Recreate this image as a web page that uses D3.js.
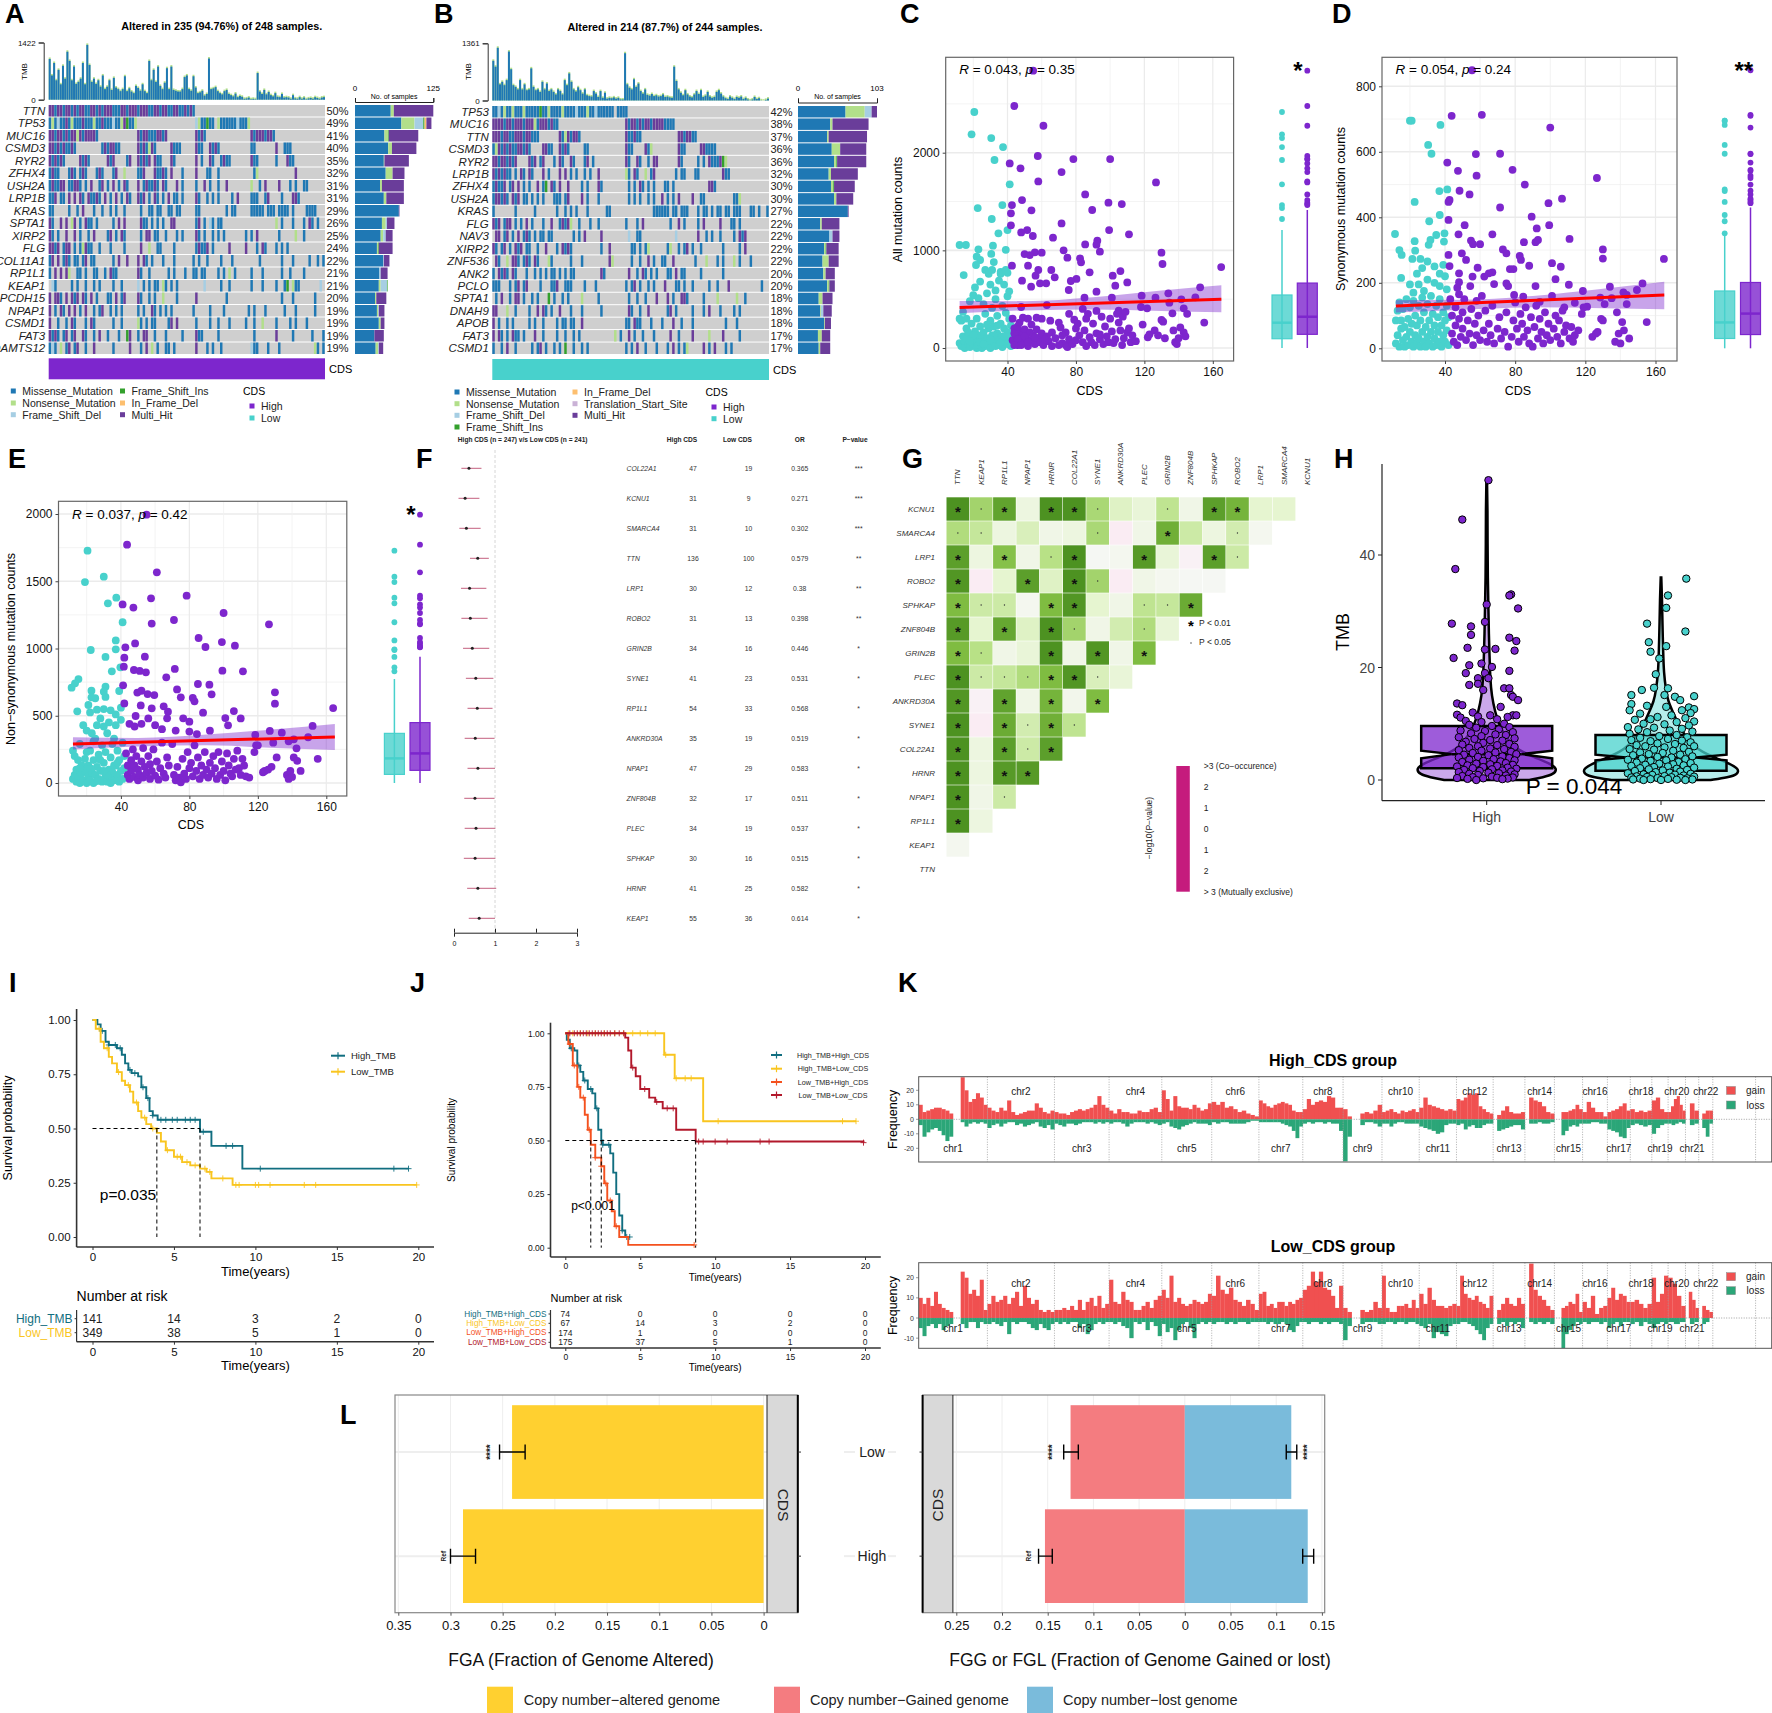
<!DOCTYPE html>
<html>
<head>
<meta charset="utf-8">
<script src="https://cdn.jsdelivr.net/npm/d3@7"></script>
<style>
body { margin: 0; background: #fff; }
text { font-family: "Liberation Sans", Arial, sans-serif; }
</style>
</head>
<body>
<div id="fig"></div>
<script>
// ---------- data ----------
var mutKeys = ["m", "n", "d", "i", "f", "h", "t"];
var mutColors = { m: "#1f78b4", n: "#b2df8a", d: "#a6cee3", i: "#33a02c", f: "#fdbf6f", h: "#6a3d9a", t: "#cab2d6" };

var genesA = ["TTN", "TP53", "MUC16", "CSMD3", "RYR2", "ZFHX4", "USH2A", "LRP1B", "KRAS", "SPTA1", "XIRP2", "FLG", "COL11A1", "RP1L1", "KEAP1", "PCDH15", "NPAP1", "CSMD1", "FAT3", "ADAMTS12"];
var pctA = [50, 49, 41, 40, 35, 32, 31, 31, 29, 26, 25, 24, 22, 21, 21, 20, 19, 19, 19, 19];
var rowsA = [
  "hhmhhmhhmh mhhmmhhmhm hhhmmmhhmh hhmhhhmmhh mhhmmhhmmh mhm",
  "mnmdmmhmnm mmhmmmnmmh mmmdmmnhim mn........ .......... ...dnmmimm .nmmmmmmdm mmn",
  "hhmhhmhmhh nhmhhhhm.. .......... ..hmhhmmmh hmh....... ...hmhm... .......... ...hmhhhmh hm",
  "hhmhmhmmhm .........m hmhhmm.... ..hmhmnhm. ....hmmm.. ...hmm..hm hm........ ...mm..... ..h..mmm",
  "hmhmhm.... .hmhm..... .hmh....mh ..hmhmh.hm m...hm.... ...h.m..hm ..mhmm.... ...hmm.... ..m...hmm.",
  "mhmm...mhm .mhm...mhm ...mh..n.. ..mmh...hm mhm.h...m. ...h...mm. .m........ ....mn.... ......... h",
  "mhmmhh.mmh hm.m.h..mh .m.h.m.hm. ..h.mhmmhm .hm...h.m. ...m..h.m. .m..h..... ...n..m.h. ...h...m.m ..mm",
  "mmh.mm.h.h .hm.hmmhm. h.m.h.m.hm ..hmh.m.hm .m.h.mm.m. ...hm..m.m .m....m.h. ...mmm..mh ....m...hh m",
  "mm.....m.. m.h...m..m ..m.m..m.. ...m..mm.m m..mm.mm.. ...mm..... ....m.mm.. ...mmmmm.m mm.mmmm.m. ...mmmm...",
  "hm..h.h.nh .m.hmm.m.. ...m.h.h.. ...hmm.m.m .m..hh.... ...mh.m.dm .mm....... .......... ..n.m...m. ..m.hm.m..",
  "hm.m..h..h .m..m.h... .mh.m.hm.. ...m.hh.mm ..m...m.m. ...hm.m..m .m.m...... .m.m.h.... ...m.....n ..m.......m",
  "hhmh.mhh.m .mnhmm..m. ..m....m.. ...h..n..m m....m.... ...mhmmh.m .....h.... .h...m.hm. ..m.m.m...",
  "mh.h.mhm.m m.mh.mm... ...m.h..h. ..h.hm.m.. .m...m.... ..m.m..m.. ..m...m... ......m... ....m...m. ....m..m.m",
  "m.h.h.hn.. mm.m..mm.. m.hmm..... ..hm..m... ...m.m...m ..mm.mm... .m.m.n.m.. ...m...m.. ....m..m.. ..m.......m",
  ".dm.....m. m..m..m.m. ...m..m... ..d.m.m.mm .nm.m.m... ......d... ..m..m.... ...m...m.. ..m..mi.nm m.......d",
  "h.hhm.h.hm h.hm.h.m.. .mm.h.mh.. ..hm..m.m. .n....m... ...h...... ....m..... .......... ....m...m. ......m...",
  "h.m.hm.h.h .m.h..m.mh ..m.m.m... ..m.m..hm. m.m.m..... ..m.....m. ...m...... ..m.m...m. .....m...m ......m..",
  "h..m..m.hm ...m.hm... ...m..m... ..nm.m.mm. ...mh.h... ...m....m. .m...m.... .m..m..n.. ..m....m.m ...m",
  "hmhm.mh.mh ..hm..m.h. .m...m..ih ..m.hh..m. ..m.....m. ...hmm.... .m........ ....m..... ..h.....m. .....m...m",
  "mdm.n.mh.m h..m..h... ...m.....h ...m.h.n.m ..mm.m.... ...h...m.m ..m....... ...dmm...m ...m...... ......nm.m"
];
var barsA = [[57,5,0,0,0,63],[74,21,14,2,3,8],[47,6,0,1,0,47],[53,6,0,0,0,39],[46,1,0,0,0,39],[49,11,0,0,0,19],[40,3,0,0,0,35],[46,4,0,0,0,28],[70,0,0,0,0,1],[43,6,2,0,0,12],[41,4,4,0,0,11],[35,2,0,1,0,22],[45,0,1,0,0,9],[39,0,2,0,0,11],[38,3,10,1,0,0],[32,2,0,0,0,16],[35,2,1,0,0,9],[38,3,0,0,0,6],[31,0,0,0,0,15],[33,4,1,0,0,7]];
var tmbA = [1050,640,950,520,780,420,880,560,1230,1000,520,860,430,480,560,950,420,1400,900,480,560,430,520,360,640,300,360,520,280,580,340,300,250,300,620,250,320,240,200,380,330,260,420,250,200,1000,520,780,480,860,380,300,460,820,300,860,280,260,240,240,300,600,640,300,260,620,340,200,220,260,140,180,1060,300,320,350,250,200,170,250,280,180,150,120,190,100,130,110,60,70,90,50,60,50,700,240,180,280,170,230,150,120,200,110,100,180,90,100,90,60,150,70,60,100,60,90,50,70,80,60,100,80,60,90,100];

var genesB = ["TP53", "MUC16", "TTN", "CSMD3", "RYR2", "LRP1B", "ZFHX4", "USH2A", "KRAS", "FLG", "NAV3", "XIRP2", "ZNF536", "ANK2", "PCLO", "SPTA1", "DNAH9", "APOB", "FAT3", "CSMD1"];
var pctB = [42, 38, 37, 36, 36, 32, 30, 30, 27, 22, 22, 22, 22, 20, 20, 18, 18, 18, 17, 17];
var rowsB = [
  "mmdmnmmnmm mnmmmmmimm nmmmmnmmmm dmmmnmmdmm mmmm.mmmm.",
  "hhhhmhhmhh hmhhhnmhhh mhmm...... .......... ........hm hhmhmhhmhh hhmmmm",
  "hhhmhhmmhh hmhhmmm... ....hmnhmh hm........ ........hm mhmm...... .......hhm hhmm",
  "mnhmhmhmmh hmhm....hh mm..hmhm.. ...mm..... ........hm m....hmn.. .......hmm .....hhmmm m",
  "hhmhhmhmh. ...hmh.mh. ..m.hm..hm ...mh.m... ........hm ..hm..m.hh .......hm. ....m.m.hm mmhin",
  "hmhmhmm.m. hm.hm...h. m...h.h.m. m..m.m..h. ........nm .hm..n.mh. ......m.mm ...mm..... ...hmm",
  "mhmmh.mh.h .m.m..h.mi .hm.h..h.. ..m.m...hm .........m .m.hm.m.m. ..mm.m.... ........hh m",
  "mhhmhm.hmh .mm.m.m.m. ..mmm.mh.. ..h.m...m. .........m .m.m..m.m. .h.m.m.h.. ..h..mm... .......mmn",
  "m.......m. .....m.... ...m..m.m. m...m..... .mm....... ........mm mmmm.mm.mm m...m.mm.m .mm.mm.mmm ...mm.m..m",
  "hmh.mhh.m. m.h.m...m. .h..mhmhn. .m...m..m. ........m. ..m.h..... ....m..h.m ....m.h... ..h...mm.m",
  ".hh.mh.m.h .mhm.m.mm. mm.......m .m.h.....h .........d ..mm...... ......d... ....h..m.m ..m....m.h mh",
  "hm.mh.m.hm h.mm..m..h ...m.hmhm. .........m ..h....... mm.m.mn... ...mn..m.m h.m..m.... ...m.....m .h",
  ".hm..n.hhm .mhm.hm... nm......m. ..m....... ..hn...... m..m..h.m. .mm..h.... ...m...n.. .m.m...n.m ...m",
  "m.hmhm.hm. ..m..m.m.m .mm.m.m.mm ......... h m........h ..m.hm.m.m ...mm.h.mm .....m.... ...m......",
  "mmm...m.mh .mh....m.. .mmh..mmm. ...m...m.. ........m. mh.m..m.m. ..h...mm.m ..m.....m. .m...h.... .......m",
  ".m.h..m.hh .m..m.m... i.m..m.m.. ..n.....m. .........m ..m..m...h ...h.m..hh m.....m... .n......n. .m",
  "hh...n..m. ...m..h.hm .m..h...m. ..m......m .........h m..m..h... ...mh.m... ..m...m.h. ..m....m.m",
  "h.m..m.m.. ...m.m..m. ...m.mm.mm ..h....... ........mm .hmm...m.. .m...h..m. ..m....... ....m...m.",
  "h.hm.m.hmm .m...h..m. ...m..m..m .m........ ....n.m..h .m..m...m. ....h..m.. ..h.....n. ...h.....m ......... .h",
  "m..m.h..m. ....m.mh.m ..m.m.i..m ..m.m..... ........m. m.h..m...m ...m.h.m.m n.....h.m. h...m.m..."
];
var barsB = [[62,25,9,0,0,7],[42,3,0,0,0,47],[38,2,0,0,0,50],[44,11,0,0,0,34],[47,3,0,1,0,38],[40,3,0,0,0,35],[43,3,0,1,0,27],[47,3,0,0,0,22],[65,0,0,0,0,1],[29,2,0,0,0,23],[41,0,4,0,0,9],[34,2,0,1,0,16],[32,8,0,0,0,13],[33,3,0,0,0,12],[38,2,0,1,0,7],[27,5,0,0,0,13],[29,1,3,0,0,11],[34,1,0,0,0,8],[26,5,0,0,0,11],[27,2,0,0,0,13]];
var tmbB = [980,840,1290,420,480,400,520,1200,780,400,360,300,520,300,420,280,300,800,360,280,300,240,480,300,440,260,300,240,180,300,260,180,520,400,680,480,300,250,350,280,200,300,160,140,130,260,200,120,260,100,220,80,100,90,110,80,100,60,60,1160,420,340,300,540,360,440,260,200,300,170,150,190,140,160,130,140,180,120,130,110,100,840,500,300,220,160,280,180,130,110,180,260,190,280,120,150,240,130,100,120,240,280,200,130,90,70,130,100,70,120,100,130,70,100,60,40,60,120,70,90,40,30,50,80];

// scatter points: [CDS, count]
var allHigh = [[55,2840],[44,2478],[61,2276],[57.7,1966],[78.5,1935],[100,1935],[41.3,1890],[47.6,1840],[71.6,1802],[126.8,1696],[58,1706],[85.4,1573],[48.5,1515],[99,1488],[106.8,1474],[42.6,1464],[54,1410],[89.5,1413],[42,1379],[71.6,1276],[42,1256],[99.4,1208],[51.5,1208],[48,1184],[111,1164],[54.8,1147],[66.6,1130],[92.5,1099],[85.4,1061],[92,1058],[72.8,1000],[94,986],[130,976],[130.6,860],[164.9,829],[56,980],[60,976],[50,962],[53,952],[75,925],[82.4,918],[83,877],[52,843],[58,799],[42.6,843],[65.6,799],[88,775],[106,788],[101.5,741],[56.4,741],[67.6,724],[80.3,707],[77,686],[110,672],[48.5,689],[103,638],[59,662],[62.6,662],[53.8,628],[152.6,621],[92,577],[75.8,594],[134,560],[118.4,536],[85,515],[101,515],[126.5,515],[149.8,519],[141.6,498],[134.6,464],[143,406],[121.6,406],[136.4,355],[130,287],[105,382],[107.4,321],
[43,300],[44,200],[45,120],[45,60],[46,30],[47,260],[47,160],[48,90],[48,420],[49,310],[49,140],[50,50],[50,190],[51,100],[52,300],[52,20],[53,160],[54,240],[54,80],[55,130],[56,40],[57,310],[57,190],[58,100],[59,60],[60,300],[60,150],[61,30],[63,440],[63,120],[64,70],[65,280],[66,20],[66,160],[68,100],[70,260],[71,210],[72,50],[74,30],[74,160],[75,10],[76,350],[76,90],[78,40],[79,290],[80,200],[80,80],[81,250],[82,130],[84,400],[84,60],[85,180],[86,300],[87,350],[88,110],[89,60],[90,250],[91,30],[92,150],[92,380],[94,90],[95,320],[96,40],[97,220],[98,120],[99,60],[100,300],[101,170],[103,90],[104,350],[105,260],[106,180],[107,30],[108,100],[109,370],[110,160],[111,200],[112,60],[113,130],[115,70],[118,420],[119,240],[122,110],[123,140],[126,180],[128,130],[131,270],[132,100],[137,180],[138,60],[139,40],[140,100],[141,210],[143,160],[144,120],[145,350],[155,260],[43,80],[44,150],[46,90],[48,30],[50,120],[46,220],[44,30],[52,60],[56,110],[62,90],[70,30],[72,130],[86,20],[94,140],[102,50]];
var allLow = [[20.6,2417],[19,2188],[30.5,2150],[37.4,2058],[32.4,1925],[41.3,1676],[37,1464],[22.6,1433],[30.8,1321],[34.7,1174],[40,1208],[12,1055],[15.7,1055],[23,1010],[31.5,1048],[30.5,963],[22,935],[24,901],[21.6,850],[14.4,747],[39,1005],[32,880],[27,800],[36,760],[40,770],
[12,50],[12,300],[13,280],[13,20],[14,120],[14,370],[15,60],[15,0],[16,200],[16,90],[17,30],[17,160],[18,480],[18,10],[19,250],[19,100],[20,540],[20,40],[21,170],[21,620],[22,70],[22,300],[22,0],[23,130],[23,510],[23,30],[24,220],[24,680],[25,90],[25,0],[26,450],[26,160],[27,20],[27,350],[28,560],[28,100],[29,200],[29,50],[29,760],[30,0],[30,280],[30,650],[31,130],[31,410],[31,800],[32,70],[32,220],[33,500],[33,20],[33,590],[34,150],[34,330],[35,90],[35,690],[35,30],[36,250],[36,780],[37,120],[37,430],[37,10],[38,60],[38,650],[38,200],[39,800],[39,360],[39,100],[40,40],[40,530],[40,160],[41,300],[41,80],[41,580],[42,20],[42,230],[42,120],[16,300],[20,130],[24,60],[28,240],[32,130],[36,60],[26,40],[18,70],[30,90],[34,230],[38,120]];

var synHigh = [[55.4,849],[61,713],[43.8,710],[100,674],[41.3,567],[57.6,593],[71.4,594],[47.4,542],[78.5,545],[58,527],[126.6,520],[85.5,500],[48.3,481],[54,470],[42.6,453],[42,447],[106.7,457],[99,443],[71.4,430],[89.4,402],[42,392],[51.2,376],[99.4,376],[92.3,366],[47.7,348],[67,348],[111,334],[54.8,329],[56,318],[60,318],[85,324],[91.6,324],[93,331],[130,302],[130,274],[164.8,273],[73,302],[75,290],[42,285],[49.6,290],[82.6,282],[83.3,270],[52,270],[42.6,251],[88,252],[77,242],[79,242],[101,260],[106,249],[58.6,246],[103,211],[110.6,194],[91.6,190],[134,188],[152.6,198],[118.6,175],[149.4,178],[141.7,171],[67,232],[65,229],[62.4,219],[55.7,219],[48,229],[75,198],[76,190],[68,196],[54.4,190],[48,202],[47,185],[79.4,163],[84.6,158],[101,160],[128.5,155],[135,153],[143.6,163],[94,142],[114,139],[108,125],[121,127],[143.6,135],
[43,150],[44,100],[44,45],[45,20],[46,125],[46,70],[47,10],[48,165],[48,90],[49,35],[50,110],[50,60],[51,150],[52,25],[53,85],[54,45],[55,120],[56,10],[57,75],[58,145],[58,40],[59,100],[60,25],[61,160],[62,55],[63,115],[64,20],[65,75],[66,40],[67,130],[68,15],[70,60],[71,95],[72,30],[74,50],[75,110],[76,5],[78,35],[79,85],[80,140],[81,60],[82,20],[83,105],[84,75],[85,35],[86,125],[87,55],[88,15],[89,95],[90,5],[91,65],[92,130],[93,30],[94,90],[95,50],[96,15],[97,110],[98,40],[99,75],[100,25],[102,60],[103,100],[104,35],[105,85],[106,15],[107,115],[108,50],[109,70],[111,30],[112,65],[113,20],[114,40],[116,55],[118,105],[119,125],[124,35],[126,45],[127,50],[129,90],[130,85],[137,20],[139,45],[140,15],[141,80],[142,55],[145,30],[155,80],[138,110],[131,135]];
var synLow = [[20,695],[21,695],[37.4,682],[30.4,621],[32.3,594],[36.8,480],[41.3,485],[22.7,447],[37,407],[31,388],[39.7,351],[11.5,349],[35,346],[39.4,326],[31.7,331],[22.7,327],[30.7,316],[14,300],[23,298],[15.3,285],[21.4,273],[26,273],[30,265],[34,250],[39,255],[27,245],[37,228],[24,228],[40,220],[30,210],[34,200],[20,195],[25,195],[15,215],[37,190],[28,175],[22,170],[41,180],
[12,15],[12,85],[13,115],[13,40],[14,5],[14,140],[15,60],[15,85],[16,25],[16,120],[17,5],[17,65],[18,150],[18,35],[19,90],[19,10],[20,50],[20,125],[21,20],[21,75],[22,145],[22,5],[23,40],[23,100],[24,15],[24,70],[25,130],[25,30],[26,5],[26,85],[27,50],[27,155],[28,20],[28,110],[29,65],[29,5],[30,35],[30,135],[31,15],[31,85],[32,50],[32,160],[33,5],[33,105],[34,30],[34,70],[35,130],[35,10],[36,50],[36,95],[37,20],[37,150],[38,70],[38,5],[39,40],[39,110],[40,20],[40,85],[41,55],[41,130],[42,10],[42,95]];

var nonHigh = [[55,1995],[43.6,1772],[61,1566],[78.4,1393],[57.6,1373],[47.3,1304],[41,1328],[100,1264],[71,1212],[126.5,1180],[58,1185],[85.4,1078],[48.3,1038],[99,1048],[106.6,1021],[89.4,1011],[42.6,1009],[54,939],[42,932],[41.7,865],[71.5,848],[99.3,835],[111.3,830],[47.6,840],[51,833],[54.6,823],[66.5,786],[85,736],[91.7,731],[93,659],[130,674],[130,590],[41.3,726],[164,557],[72.8,696],[49.6,672],[52,686],[55.6,661],[59.5,654],[82,632],[83,607],[75,637],[42,592],[51.6,577],[65,570],[58,555],[67.5,530],[88,523],[106,535],[101,483],[110,480],[152,424],[102.6,429],[76.4,481],[80,456],[67,481],[48.6,498],[127,387],[134,374],[92,389],[80,382],[84.4,364],[118.5,357],[149.4,340],[141,325],[142.6,258],[45,440],[48,420],[52,440],[56,480],[60,430],[64,400],[72,390],[120,280],[129,300],[131,190],[138,310],
[43,220],[44,130],[44,60],[45,30],[46,170],[46,90],[47,250],[48,45],[48,130],[49,200],[50,20],[50,100],[51,60],[52,160],[53,40],[53,260],[54,120],[55,75],[56,200],[57,30],[57,140],[58,90],[59,250],[60,55],[61,160],[62,25],[63,110],[64,300],[65,70],[66,40],[67,190],[68,130],[70,290],[71,60],[72,20],[73,120],[74,40],[75,5],[76,180],[77,70],[78,30],[79,230],[80,110],[81,150],[82,50],[83,280],[84,90],[85,190],[86,30],[87,130],[88,60],[89,230],[90,100],[91,40],[92,150],[93,70],[94,200],[95,110],[96,30],[97,230],[98,60],[99,160],[100,90],[101,20],[102,220],[103,130],[104,70],[105,50],[106,180],[107,100],[108,240],[109,110],[110,60],[111,180],[112,130],[113,50],[115,40],[118,230],[119,280],[123,80],[124,90],[126,100],[128,120],[137,60],[138,30],[139,90],[140,45],[141,190],[143,165],[145,90],[155,180]];
var nonLow = [[20.5,1727],[30,1534],[19,1494],[37.3,1378],[32.4,1336],[41,1195],[37,1060],[22.4,989],[37,994],[31,937],[34.7,830],[39.7,860],[15.2,773],[13.2,741],[11.2,709],[22.8,686],[31,716],[30,679],[39,684],[22.8,637],[25,630],[31,640],[21,580],[14.5,533],[22,525],[26,545],[30,550],[34,540],[37,510],[40,560],
[12,30],[12,240],[13,200],[13,60],[14,10],[14,100],[15,170],[15,40],[16,0],[16,290],[17,130],[17,70],[18,20],[18,430],[19,180],[19,90],[20,390],[20,0],[21,50],[21,130],[22,240],[22,20],[23,370],[23,80],[24,170],[24,0],[25,330],[25,60],[26,430],[26,120],[27,30],[27,210],[28,480],[28,90],[29,10],[29,280],[30,150],[30,420],[31,50],[31,230],[32,370],[32,10],[33,100],[33,450],[34,190],[34,40],[35,290],[35,80],[36,330],[36,20],[37,130],[37,430],[38,60],[38,240],[39,10],[39,170],[40,470],[40,90],[41,300],[41,30],[42,200],[42,110],[16,110],[20,230],[24,310],[28,170],[32,60],[36,130],[26,15],[34,0],[38,150],[22,110],[30,90]];

// box stats: [q1, median, q3, lower whisker, upper whisker]
var boxAll = { low: [95, 259, 543, 0, 1208], high: [140, 320, 665, 0, 1413] };
var boxSyn = { low: [30, 79, 175, 0, 350], high: [42, 106, 201, 0, 430] };
var boxNon = { low: [64, 183, 369, 0, 773], high: [94, 220, 449, 0, 939] };

// regression: [CDS, lower, upper]
var ribbonAll = [[12,355,482],[50,385,480],[90,395,520],[130,380,590],[165,365,642]];
var lineAll = [[12,415],[165,500]];
var ribbonSyn = [[12,109,147],[50,118,148],[90,125,160],[130,122,182],[165,119,203]];
var lineSyn = [[12,129],[165,163]];
var ribbonNon = [[12,250,340],[50,272,335],[90,280,360],[130,260,400],[165,245,439]];
var lineNon = [[12,290],[165,342]];

// forest plot
var forestGenes = ["COL22A1","KCNU1","SMARCA4","TTN","LRP1","ROBO2","GRIN2B","SYNE1","RP1L1","ANKRD30A","NPAP1","ZNF804B","PLEC","SPHKAP","HRNR","KEAP1"];
var forestHigh = [47,31,31,136,30,31,34,41,54,35,47,32,34,30,41,55];
var forestLowN = [19,9,10,100,12,13,16,23,33,19,29,17,19,16,25,36];
var forestOR = ["0.365","0.271","0.302","0.579","0.38","0.398","0.446","0.531","0.568","0.519","0.583","0.511","0.537","0.515","0.582","0.614"];
var forestLo = [.18,.11,.13,.39,.17,.18,.22,.29,.33,.26,.33,.25,.26,.24,.32,.36];
var forestHi = [.67,.62,.65,.85,.79,.82,.86,.96,.94,.99,1.0,.99,1.01,1.01,1.03,1.0];
var forestP = ["***","***","***","**","**","**","*","*","*","*","*","*","*","*","*","*"];

// co-occurrence
var coCols = ["TTN","KEAP1","RP1L1","NPAP1","HRNR","COL22A1","SYNE1","ANKRD30A","PLEC","GRIN2B","ZNF804B","SPHKAP","ROBO2","LRP1","SMARCA4","KCNU1"];
var coRows = ["KCNU1","SMARCA4","LRP1","ROBO2","SPHKAP","ZNF804B","GRIN2B","PLEC","ANKRD30A","SYNE1","COL22A1","HRNR","NPAP1","RP1L1","KEAP1","TTN"];
var coVals = [
  [3,1.5,2.6,.3,3,3,1.4,.6,.4,1.1,.2,2.7,2.2,.5,.5],
  [1.3,1,.3,.7,.2,.3,1.4,-.2,.2,2.3,.9,.3,.8,.1],
  [2.7,.3,1.9,.2,1.2,3,.05,.1,2.8,.4,-.1,2.7,.9],
  [2.9,-.2,.5,2.7,.6,3,1.5,-.2,.2,.1,.05,.05],
  [2,.9,.9,.1,2,2.9,.5,.2,1.1,1,2.4],
  [2.8,.5,2.5,.6,3,1.5,.2,.8,1.3,.4],
  [2,1.2,.2,.4,3,.2,2.9,.2,2],
  [3,.9,1,1.3,2,2.9,.7,.4],
  [2.9,-.1,2.6,.2,2.2,.15,2],
  [3,-.2,2.4,.8,2.3,1.1],
  [3,.3,2.7,.9,2.7],
  [3,.3,2.8,2.8],
  [3,.2,.9],
  [3,.3],
  [.1]
];
var coMarks = ["*.*_**.__._**__","..____.__*__._","*_*_.*__*__*.","*__*_*._____","*.._**__..*","*_*_*.__._","*.__*_*_*","*...**._","*_*_*_*","*_*.*.","*_*.*","*_**","*_.","*_","_"];

// violin: [TMB, density]
var violinHigh = [[0,.6],[.5,.8],[1,.94],[2,1],[3,.88],[4,.68],[5,.5],[6,.38],[8,.25],[10,.17],[12,.12],[15,.07],[18,.05],[22,.04],[26,.03],[30,.025],[36,.015],[42,.012],[48,.012],[53.3,.004]];
var violinLow = [[0,.7],[.5,.95],[1,1.08],[2,1.1],[3,.95],[4,.75],[5,.58],[6,.47],[8,.33],[10,.24],[12,.17],[14,.1],[16,.07],[19,.04],[23,.03],[28,.02],[32,.015],[36,.004]];
// box: q1, median, q3, notch low, notch high
var tmbBoxHigh = [2.1, 4.6, 9.6, 3.85, 5.2];
var tmbBoxLow = [1.66, 4.0, 8.0, 3.5, 4.5];
// jitter points: [offset, TMB]
var tmbPtsHigh = [[.01,53.3],[-.14,46.3],[-.18,37.5],[.14,33],[.13,32.8],[.18,30.5],[0,31.2],[-.2,27.8],[-.09,27.3],[-.01,28.1],[-.09,25.8],[.13,25.3],[.17,24.7],[-.11,23.5],[-.01,23.2],[.05,23.3],[.16,23],[-.19,21.7],[-.03,20.7],[-.1,20.4],[.03,20.1],[.13,19.4],[-.12,19],[-.01,19],[-.05,18.1],[.01,18.1],[-.05,17.1],[-.1,16.9],[-.02,16],[.1,16.3],[.13,16.3],[.14,15.1],[.15,14.8],[.18,14.2],[-.17,13.6],[-.14,13.3],[.08,13],
[-.17,11.6],[-.15,11.1],[.15,11.5],[.17,11.5],[.12,11.2],[-.08,12],[-.05,11.3],[.02,11.5],[.06,10.8],[-.12,10.5],[-.03,10.3],[.1,10],[-.1,9.8],[.03,9.6],[.13,9.4],[-.06,9.3],[.07,9],[-.15,8.8],[-.01,8.7],[.15,8.5],[-.09,8.3],[.05,8.1],[.11,8],[-.03,7.8],[-.16,7.6],[.16,7.4],[-.07,7.3],[.02,7.1],[.09,7],[-.12,6.8],[-.02,6.6],[.13,6.4],[-.14,6.3],[.06,6.2],[-.05,6],[.16,5.9],[-.1,5.7],[.02,5.6],[.1,5.5],[-.16,5.3],[-.03,5.2],[.14,5],[.05,4.9],[-.08,4.8],[.17,4.6],[-.13,4.5],[.01,4.4],[.09,4.2],[-.05,4.1],[-.16,4],[.13,3.9],[.04,3.7],[-.1,3.6],[.16,3.5],[-.02,3.4],[.08,3.3],[-.14,3.2],[.11,3],[-.06,2.9],[.02,2.8],[.15,2.7],[-.11,2.6],[.06,2.5],[-.17,2.4],[-.02,2.3],[.12,2.2],[-.08,2.1],[.17,2],[.03,1.9],[-.13,1.8],[.09,1.7],[-.04,1.6],[.14,1.5],[-.16,1.4],[.01,1.3],[.07,1.2],[-.1,1.1],[.16,1],[-.05,.9],[.11,.8],[-.14,.7],[.03,.6],[-.08,.5],[.15,.45],[.06,.4],[-.17,.35],[-.02,.3],[.12,.25],[-.11,.2],[.09,.15],[-.06,0]];
var tmbPtsLow = [[.145,35.8],[.04,32.8],[.03,30.6],[-.08,27.8],[.14,26.4],[-.07,24.5],[.03,23.8],[-.06,22.8],[-.01,21.6],[-.03,18.8],[-.04,16.4],[-.11,16],[.04,16.3],[-.17,15.1],[.02,15.1],[.19,14.9],[.08,14.8],[.11,14.2],[-.17,13.5],[.16,12.9],[.19,12.6],[.03,13],[-.08,13.2],[.12,12.4],[-.18,12.4],[.17,11.9],[-.12,11.8],[.06,11.5],[-.02,11.2],[.14,11],[-.15,10.7],[-.06,10.8],[.19,10.4],[.09,10.3],[-.1,10],[.02,9.9],[.16,9.7],[-.19,9.4],[-.04,9.3],[.12,9.1],[-.13,9],[.05,8.8],[.18,8.6],[-.08,8.5],[-.18,8.2],[.09,8],[-.01,7.8],[.15,7.6],[-.12,7.5],[.04,7.3],[-.17,7.1],[.12,7],[-.06,6.9],[.17,6.7],[-.02,6.5],[.08,6.4],[-.14,6.2],[.19,6],[-.09,6],[.02,5.8],[.13,5.7],[-.18,5.5],[-.04,5.4],[.07,5.2],[.16,5],[-.12,4.9],[.01,4.8],[-.07,4.6],[.11,4.5],[-.16,4.4],[.18,4.2],[-.02,4.1],[.06,4],[-.11,3.8],[.14,3.7],[-.19,3.6],[.03,3.5],[-.06,3.4],[.1,3.2],[-.14,3.1],[.17,3],[-.01,2.9],[.07,2.8],[-.09,2.7],[.13,2.6],[-.17,2.5],[.04,2.4],[-.04,2.3],[.19,2.2],[-.12,2.1],[.09,2],[-.07,1.9],[.15,1.8],[.01,1.7],[-.15,1.6],[.11,1.5],[-.03,1.4],[.05,1.3],[-.19,1.2],[.17,1.1],[-.1,1],[.08,.95],[-.05,.9],[.13,.8],[.02,.7],[-.14,.65],[.19,.6],[-.08,.55],[.06,.5],[-.17,.45],[.11,.4],[-.02,.35],[.15,.3],[-.12,.25],[.04,.2],[-.06,.15],[.18,.1],[-.16,.1],[.09,.05],[.0,0],[-.1,0],[.14,0]];

// survival: [time, probability]
var kmHighTMB = [[0,1],[.3,.98],[.5,.95],[.8,.9],[1,.885],[1.5,.87],[1.8,.84],[2,.8],[2.2,.77],[2.4,.755],[2.8,.74],[3,.69],[3.3,.64],[3.5,.58],[3.7,.56],[4,.54],[6.6,.485],[7.3,.42],[9.2,.315],[19.4,.315]];
var kmLowTMB = [[0,1],[.2,.96],[.5,.9],[.7,.87],[1,.83],[1.2,.8],[1.5,.76],[1.8,.72],[2,.7],[2.3,.67],[2.5,.62],[2.8,.58],[3,.55],[3.3,.52],[3.6,.5],[3.95,.48],[4.2,.44],[4.5,.4],[5,.37],[5.5,.345],[6,.33],[6.6,.315],[7,.3],[7.3,.27],[8.6,.24],[19.9,.24]];
var censHighTMB = [.6,1,1.4,1.7,2.3,2.6,3.1,3.4,3.7,4.2,4.5,4.9,5.2,5.7,6,6.3,6.8,8.2,8.6,10.3,18.5,19.4];
var censLowTMB = [.4,.9,1.6,2.2,2.7,3.2,3.7,4.6,5.2,5.4,5.8,6.3,6.9,7.2,8,8.8,9,10,10.2,10.9,13,13.7,19.9];
var kmHH = [[0,1],[.1,.97],[.3,.93],[.6,.92],[.8,.85],[1,.82],[1.2,.78],[1.5,.74],[1.8,.72],[2,.65],[2.2,.55],[2.4,.5],[2.5,.48],[3,.44],[3.2,.35],[3.4,.25],[3.6,.15],[3.8,.08],[4,.05],[4.3,.05]];
var kmHL = [[0,1],[6.6,.9],[7.3,.79],[9.2,.59],[19.4,.59]];
var kmLH = [[0,1],[.2,.95],[.5,.85],[.8,.75],[1,.7],[1.3,.62],[1.5,.55],[1.7,.48],[2,.42],[2.4,.38],[2.6,.3],[2.8,.22],[3.1,.17],[3.3,.1],[3.6,.05],[4.2,.013],[8.6,.013]];
var kmLL = [[0,1],[4,.98],[4.2,.92],[4.4,.84],[4.7,.8],[5,.74],[5.6,.7],[6,.68],[6.5,.65],[7.4,.55],[8.7,.495],[19.9,.49]];
var censHH = [.4,.9,1.3,1.7,2.1,2.5,2.9,3.8,4.1,4.3];
var censHL = [.2,.5,1,1.5,2,2.6,3.3,3.9,4.5,5,5.5,6,6.7,7.4,8,8.4,10.2,18.5,19.4];
var censLH = [.3,.6,.9,1.2,1.6,2,2.4,2.7,3,3.4,8.6];
var censLL = [.3,.6,.8,1,1.2,1.4,1.6,1.8,2,2.2,2.4,2.6,2.8,3,3.3,3.6,3.9,4.5,5.3,6.1,6.8,7.2,8.9,9.2,10,10.8,13,13.6,19.9];
var riskI = [[141,14,3,2,0],[349,38,5,1,0]];
var riskJ = [[74,0,0,0,0],[67,14,3,2,0],[174,1,0,0,0],[175,37,5,1,0]];

// copy number frequency, one list per chromosome
var chrLen = [249,243,198,191,181,171,159,146,141,135,135,133,115,107,102,90,83,78,59,63,48,51];
var gainHigh = [[10,5,6,7,8,8,7,6,4,0,0,29,20,12,14,18,15,10],[8,6,5,8,6,13,5,3,4,5,6,6,11,8,5,4,6],[5,4,4,3,5,6,7,6,7,8,10,16,10,8],[6,4,7,5,5,4,4,6,5,5,7,8,5],[20,14,6,16,9,8,8,7,10,8,6,7,11],[12,10,12,8,9,7,5,6,4,3,2],[13,11,9,8,10,11,12,11,10,6,5,5],[7,14,10,12,13,12,16,15,8,8],[7,2,0,0,4,5,4,6,10],[5,6,7,5,4,6,5,6,7,5],[8,15,10,9,8,7,6,7,6],[14,13,15,18,17,18,9,7,5,4],[0,3,6,9,5,4,4,5],[0,15,13,12,9,5,4],[0,0,5,5,6,7,10,7],[5,12,8,5,5,2],[5,6,7,9,11,6],[7,5,6,5,6],[13,15,7,5],[5,9,14,16,10,6],[0,11,6],[0,4,6,6]];
var lossHigh = [[4,12,9,7,6,8,11,15,12,0,0,2,5,3,2,3,2,3],[6,4,3,5,3,2,2,4,3,5,4,3,2,5,6,4,7],[3,4,5,3,3,4,3,2,2,2,3,2,3,2],[3,2,2,3,5,3,2,2,2,3,2,3,4],[3,2,5,6,7,5,4,3,2,3,3,3,4],[2,3,2,2,3,3,3,3,2,1,1],[2,2,2,2,2,2,3,4,5,8,13,5],[3,2,3,2,2,3,2,3,3,8],[29,12,0,0,4,2,2,3,5],[3,3,5,3,2,2,3,3,3,3],[5,6,7,8,10,9,4,3,3],[4,3,7,5,4,6,6,4,3,3],[0,8,7,6,5,4,4,7],[0,3,3,2,3,3,2],[0,0,11,8,5,4,5,3],[3,3,2,2,3,3],[7,8,9,12,13,6],[4,3,4,5,4],[10,6,4,3],[3,4,3,2,3],[0,4,3],[0,6,12,3]];
var gainLow = [[10,7,10,6,13,7,5,4,3,0,0,23,20,12,14,11,19,4],[7,11,8,9,11,7,10,13,6,16,10,7,9,4,3,4,3],[4,4,5,4,6,4,9,4,8,10,6,11,5,7],[19,8,7,13,9,8,4,4,6,8,5,9,11],[14,10,21,8,10,7,6,7,9,8,7,8,12],[11,21,14,12,15,9,8,6,9,7,4],[12,13,6,7,5,8,8,6,8,7,9,10],[14,16,23,18,23,15,14,11,5,16],[5,3,0,0,4,3,4,8,5],[21,5,3,3,6,6,7,5,9,5],[12,7,15,9,6,6,5,6,7],[6,21,12,10,9,11,8,7,5,11],[0,4,7,10,7,6,10,7],[0,27,14,11,9,6,4],[0,0,5,6,8,7,12,3],[8,5,11,2,5,6],[10,15,9,12,11,8],[8,9,7,5,7],[20,8,12,21],[20,17,11,6],[0,13,9,5],[0,6,4,3]];
var lossLow = [[5,9,4,3,5,3,6,4,3,0,0,3,5,2,2,5,2,3],[3,2,3,4,2,8,2,3,2,2,3,5,6,3,5,6,3],[2,3,2,3,2,2,5,3,8,6,3,2,3,2],[2,3,2,4,5,10,2,3,2,6,2,4,9],[3,7,5,11,6,3,2,5,10,3,2,3,2],[3,2,2,3,2,3,2,2,3,2,2],[2,2,3,2,3,3,2,3,6,7,4,2],[2,3,2,2,3,2,3,2,2,3],[11,4,0,0,3,2,2,2,3],[3,2,2,3,2,2,3,2,2,3],[4,5,3,10,7,8,9,4,3],[3,2,2,3,4,6,8,11,5,3],[0,3,2,4,2,3,2,5],[0,2,3,2,3,2,3],[0,0,15,8,6,4,2,3],[2,3,2,2,3,2],[5,3,2,4,2,2],[3,2,4,2,3],[5,3,2,3],[2,3,2],[0,3,2],[0,3,2,0]];

// fraction of genome
var fgaVals = { Low: .241, High: .288 };
var fgaErr = { Low: [.2285, .253], High: [.276, .30] };
var fggVals = { Low: .125, High: .153 };
var fggErr = { Low: [.1165, .1325], High: [.145, .16] };
var fglVals = { Low: .1165, High: .1345 };
var fglErr = { Low: [.111, .1225], High: [.129, .141] };

// ---------- helpers ----------
var PURPLE = "#7D26CD", TURQ = "#48D1CC";

var svg = d3.select("#fig").append("svg")
  .attr("width", 1772).attr("height", 1713)
  .style("display", "block").style("background", "#fff");

function txt(g, x, y, s, o) {
  o = o || {};
  var t = g.append("text")
    .attr("x", x).attr("y", y)
    .attr("dominant-baseline", "central")
    .attr("font-size", o.size || 10)
    .attr("text-anchor", o.anchor || "start")
    .attr("fill", o.fill || "#000")
    .text(s);
  if (o.bold) t.attr("font-weight", "bold");
  if (o.italic) t.attr("font-style", "italic");
  if (o.rotate) t.attr("transform", "rotate(" + o.rotate + "," + x + "," + y + ")");
  return t;
}

function styleAxis(g, color, size, width) {
  g.selectAll("path").attr("stroke", color).attr("stroke-width", width || 1);
  g.selectAll("line").attr("stroke", color).attr("stroke-width", width || 1);
  g.selectAll("text").attr("font-size", size).attr("fill", "#111");
}

// panel letters
[["A",5,14],["B",434,14],["C",900,14],["D",1332,14],["E",8,459],["F",416,459],["G",902,459],["H",1334,459],["I",9,983],["J",410,983],["K",898,983],["L",340,1415]].forEach(function (d) {
  txt(svg, d[0] === "I" ? d[1] : d[1], d[2], d[0], { size: 27, bold: true });
});

// ---------- A, B oncoplots ----------
function oncoplot(c) {
  var g = svg.append("g");
  txt(g, c.titleX, c.titleY, c.title, { size: 10.8, bold: true, anchor: "middle" });

  var rows = c.rows.map(function (r) { return r.replace(/ /g, ""); });
  var x = d3.scaleBand().domain(d3.range(100)).range([c.x0, c.x1]);
  var y = d3.scaleBand().domain(c.genes).range([c.y0, c.y1]).paddingInner(.08);

  // TMB bars
  var tx = d3.scaleBand().domain(d3.range(c.tmb.length)).range([c.x0, c.x1]).paddingInner(.1);
  var ty = d3.scaleLinear().domain([0, c.tmbMax]).range([c.tmbBottom, c.tmbTop]);
  g.selectAll(".tmbTip").data(c.tmb).enter().append("rect")
    .attr("x", function (d, i) { return tx(i); }).attr("width", tx.bandwidth())
    .attr("y", function (d) { return ty(d); }).attr("height", function (d) { return ty(0) - ty(d); })
    .attr("fill", mutColors.n);
  g.selectAll(".tmbBar").data(c.tmb).enter().append("rect")
    .attr("x", function (d, i) { return tx(i); }).attr("width", tx.bandwidth())
    .attr("y", function (d) { return ty(d) + 1.5; }).attr("height", function (d) { return Math.max(0, ty(0) - ty(d) - 1.5); })
    .attr("fill", mutColors.m);
  var ay = g.append("g").attr("transform", "translate(" + c.tmbAxisX + ",0)")
    .call(d3.axisLeft(ty).tickValues([0, c.tmbMax]).tickSize(5).tickPadding(3).tickFormat(d3.format("d")));
  styleAxis(ay, "#333", 8);
  txt(g, c.tmbLabelX, 71.5, "TMB", { size: 8, rotate: -90, anchor: "middle" });

  // grid background and cells
  c.genes.forEach(function (gene, i) {
    g.append("rect").attr("x", c.x0).attr("width", c.x1 - c.x0)
      .attr("y", y(gene)).attr("height", y.bandwidth()).attr("fill", "#cfcfcf");
    rows[i].split("").forEach(function (ch, j) {
      if (ch === "." || j > 99) return;
      g.append("rect").attr("x", x(j)).attr("width", x.bandwidth() - .3)
        .attr("y", y(gene)).attr("height", y.bandwidth())
        .attr("fill", mutColors[ch]);
    });
    txt(g, c.x0 - 3.5, y(gene) + y.bandwidth() / 2, gene, { size: 11.5, italic: true, anchor: "end", fill: "#222" });
    txt(g, c.x1 + 1.5, y(gene) + y.bandwidth() / 2, c.pct[i] + "%", { size: 11, fill: "#222" });
  });

  // side stacked bars
  var bx = d3.scaleLinear().domain([0, c.barMax]).range([c.bx0, c.bx1]);
  c.bars.forEach(function (b, i) {
    var cum = 0;
    b.forEach(function (v, k) {
      if (!v) return;
      g.append("rect").attr("x", bx(cum)).attr("width", bx(v) - bx(0))
        .attr("y", y(c.genes[i])).attr("height", y.bandwidth())
        .attr("fill", mutColors[mutKeys[k]]);
      cum += v;
    });
  });
  var ba = g.append("g").attr("transform", "translate(0," + c.barAxisY + ")")
    .call(d3.axisTop(bx).tickValues([0, c.barMax]).tickSize(4).tickFormat(""));
  styleAxis(ba, "#222", 8);
  txt(g, bx(0), c.barAxisY - 14, "0", { size: 8, anchor: "middle" });
  txt(g, bx(c.barMax), c.barAxisY - 14, c.barMax, { size: 8, anchor: "middle" });
  txt(g, (c.bx0 + c.bx1) / 2, c.barAxisY - 6, "No. of samples", { size: 7, anchor: "middle" });

  // CDS strip
  g.append("rect").attr("x", c.x0).attr("width", c.x1 - c.x0).attr("y", c.cdsY).attr("height", 21).attr("fill", c.cdsColor);
  txt(g, c.x1 + 4, c.cdsY + 10.5, "CDS", { size: 11 });

  // legend
  c.legend.forEach(function (l) {
    g.append("rect").attr("x", l[1] - 2.5).attr("y", l[2] - 2.5).attr("width", 5).attr("height", 5).attr("fill", l[3]);
    txt(g, l[1] + 9, l[2], l[0], { size: 10.5, fill: "#222" });
  });
  txt(g, c.cdsLegX, c.legY, "CDS", { size: 10.5 });
}

oncoplot({
  title: "Altered in 235 (94.76%) of 248 samples.", titleX: 221.7, titleY: 26,
  genes: genesA, pct: pctA, rows: rowsA, bars: barsA, tmb: tmbA, tmbMax: 1422,
  x0: 48.7, x1: 325, y0: 105, y1: 354, tmbTop: 42.5, tmbBottom: 99.7, tmbAxisX: 43.7, tmbLabelX: 24.7,
  bx0: 355, bx1: 433.3, barMax: 125, barAxisY: 102, cdsY: 358.3, cdsColor: PURPLE,
  cdsLegX: 243, legY: 391,
  legend: [["Missense_Mutation",13.3,391,mutColors.m],["Nonsense_Mutation",13.3,403,mutColors.n],["Frame_Shift_Del",13.3,414.7,mutColors.d],["Frame_Shift_Ins",122.5,391,mutColors.i],["In_Frame_Del",122.5,403,mutColors.f],["Multi_Hit",122.5,414.7,mutColors.h],["High",252,406,PURPLE],["Low",252,418,TURQ]]
});
oncoplot({
  title: "Altered in 214 (87.7%) of 244 samples.", titleX: 665, titleY: 27,
  genes: genesB, pct: pctB, rows: rowsB, bars: barsB, tmb: tmbB, tmbMax: 1361,
  x0: 492.3, x1: 769, y0: 106, y1: 354, tmbTop: 43.3, tmbBottom: 100.5, tmbAxisX: 487.7, tmbLabelX: 468,
  bx0: 798, bx1: 877, barMax: 103, barAxisY: 102.5, cdsY: 359, cdsColor: TURQ,
  cdsLegX: 705.5, legY: 392,
  legend: [["Missense_Mutation",457,392,mutColors.m],["Nonsense_Mutation",457,403.7,mutColors.n],["Frame_Shift_Del",457,415.3,mutColors.d],["Frame_Shift_Ins",457,427,mutColors.i],["In_Frame_Del",575,392,mutColors.f],["Translation_Start_Site",575,403.7,mutColors.t],["Multi_Hit",575,415.3,mutColors.h],["High",714,407,PURPLE],["Low",714,418.7,TURQ]]
});

// ---------- C, D, E scatter + box ----------
function scatterPanel(c) {
  var g = svg.append("g");
  var x = d3.scaleLinear().domain([40, 160]).range(c.xr);
  var y = d3.scaleLinear().domain([0, c.yRef]).range(c.yr);
  var sz = c.tickSize || 12;

  g.append("rect").attr("x", c.left).attr("y", c.top).attr("width", c.right - c.left).attr("height", c.bottom - c.top).attr("fill", "#fff");
  // grid
  c.yMinor.forEach(function (v) { g.append("line").attr("x1", c.left).attr("x2", c.right).attr("y1", y(v)).attr("y2", y(v)).attr("stroke", "#f0f0f0").attr("stroke-width", .8); });
  c.yTicks.forEach(function (v) { g.append("line").attr("x1", c.left).attr("x2", c.right).attr("y1", y(v)).attr("y2", y(v)).attr("stroke", "#ebebeb").attr("stroke-width", 1.6); });
  [20, 60, 100, 140].forEach(function (v) { g.append("line").attr("y1", c.top).attr("y2", c.bottom).attr("x1", x(v)).attr("x2", x(v)).attr("stroke", "#f0f0f0").attr("stroke-width", .8); });
  [40, 80, 120, 160].forEach(function (v) { g.append("line").attr("y1", c.top).attr("y2", c.bottom).attr("x1", x(v)).attr("x2", x(v)).attr("stroke", "#ebebeb").attr("stroke-width", 1.2); });

  function dots(data, color) {
    g.selectAll(null).data(data).enter().append("circle")
      .attr("cx", function (d) { return x(d[0]); })
      .attr("cy", function (d) { return y(d[1]); })
      .attr("r", 3.9).attr("fill", color);
  }
  dots(c.low, TURQ);
  dots(c.high, PURPLE);

  // regression ribbon and line
  g.append("path").datum(c.ribbon)
    .attr("d", d3.area().x(function (d) { return x(d[0]); }).y0(function (d) { return y(d[1]); }).y1(function (d) { return y(d[2]); }).curve(d3.curveMonotoneX))
    .attr("fill", PURPLE).attr("fill-opacity", .42);
  g.append("path").datum(c.line)
    .attr("d", d3.line().x(function (d) { return x(d[0]); }).y(function (d) { return y(d[1]); }))
    .attr("stroke", "#ff0000").attr("stroke-width", 3).attr("fill", "none");

  g.append("rect").attr("x", c.left).attr("y", c.top).attr("width", c.right - c.left).attr("height", c.bottom - c.top)
    .attr("fill", "none").attr("stroke", "#666").attr("stroke-width", 1.2);

  var ax = g.append("g").attr("transform", "translate(0," + c.bottom + ")")
    .call(d3.axisBottom(x).tickValues([40, 80, 120, 160]).tickSize(3).tickPadding(3));
  ax.select(".domain").remove();
  styleAxis(ax, "#444", sz);
  var ay = g.append("g").attr("transform", "translate(" + c.left + ",0)")
    .call(d3.axisLeft(y).tickValues(c.yTicks).tickSize(3).tickPadding(3).tickFormat(d3.format("d")));
  ay.select(".domain").remove();
  styleAxis(ay, "#444", sz);

  var rt = txt(g, c.left + 13.5, c.statY, "", { size: 13.5 });
  rt.append("tspan").attr("font-style", "italic").text("R");
  rt.append("tspan").text(" = " + c.r + ", ");
  rt.append("tspan").attr("font-style", "italic").text("p");
  rt.append("tspan").text(" = " + c.p);

  txt(g, c.yLabX, c.yLabY, c.yLab, { size: 12.5, rotate: -90, anchor: "middle" });
  txt(g, c.xLabX, c.xLabY, "CDS", { size: 12.5, anchor: "middle" });

  // side box plots
  function box(cx, stats, pts, color) {
    var wh = g.append("g");
    wh.append("line").attr("x1", cx).attr("x2", cx).attr("y1", y(stats[3])).attr("y2", y(stats[4])).attr("stroke", color).attr("stroke-width", 1.5);
    wh.append("rect").attr("x", cx - 10).attr("width", 20).attr("y", y(stats[2])).attr("height", y(stats[0]) - y(stats[2]))
      .attr("fill", color).attr("fill-opacity", .8).attr("stroke", color).attr("stroke-width", 1.2);
    wh.append("line").attr("x1", cx - 10).attr("x2", cx + 10).attr("y1", y(stats[1])).attr("y2", y(stats[1])).attr("stroke", color).attr("stroke-width", 2.5);
    var out = pts.filter(function (d) { return d[1] > stats[4]; });
    wh.selectAll("circle").data(out).enter().append("circle")
      .attr("cx", cx).attr("cy", function (d) { return y(d[1]); }).attr("r", 2.9).attr("fill", color);
  }
  box(c.boxX[0], c.box.low, c.low, TURQ);
  box(c.boxX[1], c.box.high, c.high, PURPLE);
  txt(g, c.starX, c.statY + 1, c.star, { size: 24, anchor: "middle", bold: true });
}

scatterPanel({
  low: allLow, high: allHigh, ribbon: ribbonAll, line: lineAll, box: boxAll,
  xr: [1007.5, 1212.8], yRef: 2000, yr: [348, 152.7], left: 945.7, right: 1233.6, top: 57.3, bottom: 361,
  yTicks: [0, 1000, 2000], yMinor: [500, 1500, 2500], r: "0.043", p: "0.35", statY: 69.3,
  yLab: "All mutation counts", yLabX: 898, yLabY: 209.5, xLabX: 1089.7, xLabY: 391,
  boxX: [1282, 1307.3], starX: 1297.8, star: "*"
});
scatterPanel({
  low: synLow, high: synHigh, ribbon: ribbonSyn, line: lineSyn, box: boxSyn,
  xr: [1445, 1655.5], yRef: 800, yr: [348.3, 86.3], left: 1382, right: 1677, top: 57.3, bottom: 361,
  yTicks: [0, 200, 400, 600, 800], yMinor: [100, 300, 500, 700], r: "0.054", p: "0.24", statY: 69.3,
  yLab: "Synonymous mutation counts", yLabX: 1341, yLabY: 209, xLabX: 1518, xLabY: 391,
  boxX: [1724.7, 1750.5], starX: 1743.8, star: "**"
});
scatterPanel({
  low: nonLow, high: nonHigh, ribbon: ribbonNon, line: lineNon, box: boxNon,
  xr: [120.9, 326.3], yRef: 2000, yr: [783, 514], left: 58.5, right: 346.8, top: 501.3, bottom: 796,
  yTicks: [0, 500, 1000, 1500, 2000], yMinor: [250, 750, 1250, 1750], r: "0.037", p: "0.42", statY: 513.5,
  yLab: "Non\u2212synonymous mutation counts", yLabX: 10.8, yLabY: 649, xLabX: 191, xLabY: 824.7,
  boxX: [394.4, 420], starX: 411, star: "*"
});

// ---------- F forest ----------
(function () {
  var g = svg.append("g");
  var x = d3.scaleLinear().domain([0, 3]).range([454, 577]);
  var y = d3.scaleBand().domain(forestGenes).range([453.3, 933.3]);
  var cy = function (d) { return y(d) + y.bandwidth() / 2; };
  var fs = 6.8;

  g.append("line").attr("x1", x(1)).attr("x2", x(1)).attr("y1", 450).attr("y2", 932)
    .attr("stroke", "#ccc").attr("stroke-dasharray", "3,2").attr("stroke-width", .8);
  txt(g, 522.7, 439, "High CDS (n = 247) v/s Low CDS (n = 241)", { size: 6.6, bold: true, anchor: "middle", fill: "#222" });
  [["High CDS", 682], ["Low CDS", 737.5], ["OR", 799.7], ["P\u2212value", 855]].forEach(function (h) {
    txt(g, h[1], 439, h[0], { size: 6.6, bold: true, anchor: "middle", fill: "#222" });
  });
  forestGenes.forEach(function (gene, i) {
    g.append("line").attr("x1", x(forestLo[i])).attr("x2", x(forestHi[i])).attr("y1", cy(gene)).attr("y2", cy(gene))
      .attr("stroke", "#c4607f").attr("stroke-width", 1);
    g.append("circle").attr("cx", x(+forestOR[i])).attr("cy", cy(gene)).attr("r", 1.5).attr("fill", "#222");
    txt(g, 626.6, cy(gene), gene, { size: fs, italic: true, fill: "#333" });
    txt(g, 693, cy(gene), forestHigh[i], { size: fs, anchor: "middle", fill: "#333" });
    txt(g, 748.6, cy(gene), forestLowN[i], { size: fs, anchor: "middle", fill: "#333" });
    txt(g, 799.7, cy(gene), forestOR[i], { size: fs, anchor: "middle", fill: "#333" });
    txt(g, 858.7, cy(gene), forestP[i], { size: fs, anchor: "middle", fill: "#333" });
  });
  var ax = g.append("g").attr("transform", "translate(0,932.7)")
    .call(d3.axisBottom(x).tickValues([0, 1, 2, 3]).tickSize(4).tickPadding(3).tickFormat(d3.format("d")));
  styleAxis(ax, "#222", 7);
  ax.selectAll("line").attr("y2", -4);
  ax.selectAll("text").attr("dy", "0.9em");
})();

// ---------- G co-occurrence ----------
(function () {
  var g = svg.append("g");
  var x = d3.scaleBand().domain(coCols).range([946.2, 946.2 + 23.3 * 16]);
  var y = d3.scaleBand().domain(coRows).range([497, 497 + 24 * 16]);
  var color = d3.scaleLinear()
    .domain([-3, -2, -1, -.4, 0, .5, 1.2, 2, 3])
    .range(["#c51b7d", "#de77ae", "#f1b6da", "#fde0ef", "#f7f7f7", "#e6f5d0", "#b8e186", "#7fbc41", "#4d9221"]);

  coVals.forEach(function (row, i) {
    row.forEach(function (v, j) {
      var xx = x(coCols[j]), yy = y(coRows[i]);
      g.append("rect").attr("x", xx + .3).attr("y", yy + .3).attr("width", x.bandwidth() - .6).attr("height", y.bandwidth() - .6).attr("fill", color(v));
      var m = coMarks[i][j];
      if (m === "*") txt(g, xx + x.bandwidth() / 2, yy + y.bandwidth() / 2 + 2, "*", { size: 15, anchor: "middle", fill: "#111", bold: true });
      if (m === ".") g.append("circle").attr("cx", xx + x.bandwidth() / 2).attr("cy", yy + y.bandwidth() / 2).attr("r", .7).attr("fill", "#333");
    });
  });
  coRows.forEach(function (r) {
    txt(g, 935, y(r) + y.bandwidth() / 2, r, { size: 8, italic: true, anchor: "end", fill: "#333" });
  });
  coCols.forEach(function (r) {
    txt(g, x(r) + x.bandwidth() / 2, 485, r, { size: 8, italic: true, rotate: -90, fill: "#333" });
  });

  // legend marks
  txt(g, 1191, 625, "*", { size: 15, anchor: "middle", bold: true });
  txt(g, 1199, 623, "P < 0.01", { size: 8.5, fill: "#222" });
  g.append("circle").attr("cx", 1191).attr("cy", 643).attr("r", .7).attr("fill", "#333");
  txt(g, 1199, 642, "P < 0.05", { size: 8.5, fill: "#222" });

  // colour bar
  var barY = d3.scaleLinear().domain([3, -3]).range([766, 891.7]);
  var grad = svg.append("defs").append("linearGradient").attr("id", "coGrad").attr("x1", 0).attr("x2", 0).attr("y1", 0).attr("y2", 1);
  d3.range(-3, 3.01, .5).forEach(function (v) {
    grad.append("stop").attr("offset", (3 - v) / 6).attr("stop-color", color(v));
  });
  g.append("rect").attr("x", 1176.3).attr("y", 766).attr("width", 13.5).attr("height", 125.7).attr("fill", "url(#coGrad)");
  [[3, ">3 (Co\u2212occurence)"], [2, "2"], [1, "1"], [0, "0"], [-1, "1"], [-2, "2"], [-3, "> 3 (Mutually exclusive)"]].forEach(function (d) {
    txt(g, 1203.8, barY(d[0]), d[1], { size: 8.5, fill: "#222" });
  });
  txt(g, 1148.7, 828, "\u2212log10(P\u2212value)", { size: 8.5, rotate: -90, anchor: "middle", fill: "#222" });
})();

// ---------- H violin ----------
(function () {
  var g = svg.append("g");
  var y = d3.scaleLinear().domain([0, 40]).range([780, 555]);
  var x = d3.scaleLinear().domain([0, 1]).range([1486.7, 1661]);
  var w = d3.scaleLinear().domain([0, 1]).range([0, 71]);

  function violin(cx, dens, color, stats, pts, cat) {
    g.append("path").datum(dens)
      .attr("d", d3.area().curve(d3.curveBasis)
        .x0(function (d) { return cx - w(d[1]); })
        .x1(function (d) { return cx + w(d[1]); })
        .y(function (d) { return y(d[0]); }))
      .attr("fill", color).attr("fill-opacity", .4).attr("stroke", "#000").attr("stroke-width", 2.5);
    // notched box
    var hw = 65.5, nw = 35;
    var p = [[cx - hw, y(stats[0])], [cx + hw, y(stats[0])], [cx + hw, y(stats[3])], [cx + nw, y(stats[1])], [cx + hw, y(stats[4])],
      [cx + hw, y(stats[2])], [cx - hw, y(stats[2])], [cx - hw, y(stats[4])], [cx - nw, y(stats[1])], [cx - hw, y(stats[3])]];
    g.append("path").attr("d", "M" + p.join("L") + "Z")
      .attr("fill", color).attr("fill-opacity", .75).attr("stroke", "#000").attr("stroke-width", 2.5);
    g.append("line").attr("x1", cx - nw).attr("x2", cx + nw).attr("y1", y(stats[1])).attr("y2", y(stats[1])).attr("stroke", "#000").attr("stroke-width", 2.5);
    g.selectAll(null).data(pts).enter().append("circle")
      .attr("cx", function (d) { return x(cat + d[0]); })
      .attr("cy", function (d) { return y(d[1]); })
      .attr("r", 3.7).attr("fill", color).attr("stroke", "#000").attr("stroke-width", 1);
  }
  violin(x(0), violinHigh, PURPLE, tmbBoxHigh, tmbPtsHigh, 0);
  violin(x(1), violinLow, TURQ, tmbBoxLow, tmbPtsLow, 1);

  g.append("line").attr("x1", 1382).attr("x2", 1382).attr("y1", 464).attr("y2", 800.7).attr("stroke", "#222").attr("stroke-width", 1.2);
  g.append("line").attr("x1", 1382).attr("x2", 1765).attr("y1", 800.7).attr("y2", 800.7).attr("stroke", "#222").attr("stroke-width", 1.2);
  [0, 20, 40].forEach(function (v) {
    g.append("line").attr("x1", 1378).attr("x2", 1382).attr("y1", y(v)).attr("y2", y(v)).attr("stroke", "#222");
    txt(g, 1375, y(v), v, { size: 14, anchor: "end", fill: "#444" });
  });
  [["High", 0], ["Low", 1]].forEach(function (d) {
    g.append("line").attr("x1", x(d[1])).attr("x2", x(d[1])).attr("y1", 800.7).attr("y2", 805).attr("stroke", "#222");
    txt(g, x(d[1]), 817, d[0], { size: 14, anchor: "middle", fill: "#444" });
  });
  txt(g, 1342.7, 632, "TMB", { size: 18, rotate: -90, anchor: "middle" });
  txt(g, 1574, 786, "P = 0.044", { size: 22.5, anchor: "middle" });
})();

// ---------- I, J survival ----------
function kmPanel(c) {
  var g = svg.append("g");
  var x = d3.scaleLinear().domain([0, 20]).range(c.xr);
  var y = d3.scaleLinear().domain([0, 1]).range(c.yr);
  var line = d3.line().curve(d3.curveStepAfter).x(function (d) { return x(d[0]); }).y(function (d) { return y(d[1]); });
  function probAt(curve, t) {
    var p = curve[0][1];
    curve.forEach(function (d) { if (d[0] <= t) p = d[1]; });
    return p;
  }
  c.curves.forEach(function (s) {
    g.append("path").datum(s.km).attr("d", line).attr("fill", "none").attr("stroke", s.color).attr("stroke-width", 1.9);
    g.selectAll(null).data(s.cens).enter().append("path")
      .attr("d", function (t) {
        var px = x(t), py = y(probAt(s.km, t));
        return "M" + (px - 3) + "," + py + "H" + (px + 3) + "M" + px + "," + (py - 3) + "V" + (py + 3);
      })
      .attr("stroke", s.color).attr("stroke-width", .9);
  });
  // median guide lines
  g.append("line").attr("x1", x(0)).attr("x2", x(c.medX)).attr("y1", y(.5)).attr("y2", y(.5)).attr("stroke", "#000").attr("stroke-dasharray", "4,3");
  c.meds.forEach(function (t) {
    g.append("line").attr("x1", x(t)).attr("x2", x(t)).attr("y1", y(.5)).attr("y2", y(0)).attr("stroke", "#000").attr("stroke-dasharray", "4,3");
  });
  txt(g, c.pX, c.pY, c.pText, { size: c.pSize, anchor: "middle" });

  // axes
  var ax = g.append("g").attr("transform", "translate(0," + c.bottom + ")")
    .call(d3.axisBottom(x).tickValues([0, 5, 10, 15, 20]).tickSize(3).tickSizeOuter(0).tickPadding(3));
  styleAxis(ax, "#333", c.tick, 1);
  ax.select(".domain").attr("d", "M" + c.left + ",0H" + c.right).attr("stroke-width", 1.6);
  var ay = g.append("g").attr("transform", "translate(" + c.left + ",0)")
    .call(d3.axisLeft(y).tickValues([0, .25, .5, .75, 1]).tickSize(3).tickPadding(3).tickFormat(d3.format(".2f")));
  styleAxis(ay, "#333", c.tick, 1);
  ay.select(".domain").attr("d", "M0," + c.top + "V" + c.bottom).attr("stroke-width", 1.6);
  txt(g, c.yLabX, c.yLabY, "Survival probability", { size: c.yLabSize, rotate: -90, anchor: "middle" });
  txt(g, (x(0) + x(20)) / 2, c.xLabY, "Time(years)", { size: c.xLabSize, anchor: "middle" });

  // legend
  c.curves.forEach(function (s, i) {
    var ly = c.legY[i];
    g.append("line").attr("x1", c.legX).attr("x2", c.legX + c.legW).attr("y1", ly).attr("y2", ly).attr("stroke", s.color).attr("stroke-width", 2);
    g.append("line").attr("x1", c.legX + c.legW / 2).attr("x2", c.legX + c.legW / 2).attr("y1", ly - 3.5).attr("y2", ly + 3.5).attr("stroke", s.color).attr("stroke-width", 1.2);
    txt(g, c.legTextX, ly, s.name, { size: c.legSize, anchor: c.legAnchor, fill: "#222" });
  });

  // risk table
  txt(g, c.riskLeft, c.riskTitleY, "Number at risk", { size: c.riskTitleSize });
  c.curves.forEach(function (s, i) {
    txt(g, c.riskLeft - 4, c.riskY[i], s.name, { size: c.riskLabSize, anchor: "end", fill: s.color });
    g.append("line").attr("x1", c.riskLeft - 2).attr("x2", c.riskLeft).attr("y1", c.riskY[i]).attr("y2", c.riskY[i]).attr("stroke", "#333");
    [0, 5, 10, 15, 20].forEach(function (t, k) {
      txt(g, x(t), c.riskY[i], c.risk[i][k], { size: c.riskNumSize, anchor: "middle", fill: "#222" });
    });
  });
  var rx = g.append("g").attr("transform", "translate(0," + c.riskAxisY + ")")
    .call(d3.axisBottom(x).tickValues([0, 5, 10, 15, 20]).tickSize(3).tickSizeOuter(0).tickPadding(3));
  styleAxis(rx, "#333", c.tick, 1);
  rx.select(".domain").attr("d", "M" + c.left + ",0H" + c.right).attr("stroke-width", 1.6);
  g.append("line").attr("x1", c.left).attr("x2", c.left).attr("y1", c.riskAxisTop).attr("y2", c.riskAxisY).attr("stroke", "#333").attr("stroke-width", 1.2);
  txt(g, (x(0) + x(20)) / 2, c.riskXLabY, "Time(years)", { size: c.xLabSize, anchor: "middle" });
}

kmPanel({
  xr: [92.5, 418.3], yr: [1237, 1020], left: 76.6, right: 434, top: 1009, bottom: 1247, tick: 11.5,
  curves: [
    { name: "High_TMB", km: kmHighTMB, cens: censHighTMB, color: "#116e80" },
    { name: "Low_TMB", km: kmLowTMB, cens: censLowTMB, color: "#f9c51f" }
  ],
  medX: 6.6, meds: [3.95, 6.6], pText: "p=0.035", pX: 128, pY: 1194, pSize: 15.5,
  yLabX: 8, yLabY: 1128, yLabSize: 12.5, xLabY: 1271.7, xLabSize: 13,
  legX: 331, legW: 14, legY: [1055.7, 1071.7], legTextX: 351, legSize: 9.5, legAnchor: "start",
  riskLeft: 76.6, riskTitleY: 1296, riskTitleSize: 14, riskLabSize: 12, riskNumSize: 12,
  riskY: [1318.7, 1332.7], risk: riskI, riskAxisY: 1341.7, riskAxisTop: 1310, riskXLabY: 1365.5
});
kmPanel({
  xr: [565.3, 865], yr: [1247.7, 1033.3], left: 550.5, right: 880.8, top: 1022.7, bottom: 1257, tick: 8.5,
  curves: [
    { name: "High_TMB+High_CDS", km: kmHH, cens: censHH, color: "#116e80" },
    { name: "High_TMB+Low_CDS", km: kmHL, cens: censHL, color: "#f9c51f" },
    { name: "Low_TMB+High_CDS", km: kmLH, cens: censLH, color: "#f4511e" },
    { name: "Low_TMB+Low_CDS", km: kmLL, cens: censLL, color: "#b2182b" }
  ],
  medX: 8.7, meds: [1.7, 2.4, 8.7], pText: "p<0.001", pX: 593, pY: 1205.5, pSize: 12,
  yLabX: 451, yLabY: 1140, yLabSize: 10, xLabY: 1277, xLabSize: 10,
  legX: 771, legW: 11, legY: [1055, 1068.7, 1082, 1095], legTextX: 833, legSize: 7.2, legAnchor: "middle",
  riskLeft: 550.5, riskTitleY: 1297.7, riskTitleSize: 11, riskLabSize: 8.2, riskNumSize: 8.5,
  riskY: [1314, 1323.3, 1332.7, 1342.3], risk: riskJ, riskAxisY: 1348, riskAxisTop: 1310, riskXLabY: 1367.7
});

// ---------- K copy number ----------
function cnPanel(c) {
  var g = svg.append("g");
  var total = d3.sum(chrLen);
  var x = d3.scaleLinear().domain([0, total]).range([918.7, 1712.8]);
  var y = d3.scaleLinear().domain([0, 20]).range([c.zero, c.y20]);
  var starts = [0];
  chrLen.forEach(function (l, i) { starts.push(starts[i] + l); });

  txt(g, 1333, c.titleY, c.title, { size: 16, bold: true, anchor: "middle" });
  g.append("defs").append("clipPath").attr("id", c.id).append("rect")
    .attr("x", 918.7).attr("y", c.top).attr("width", 853).attr("height", c.bottom - c.top);
  var bars = g.append("g").attr("clip-path", "url(#" + c.id + ")");
  function drawBars(arrs, color, sign) {
    arrs.forEach(function (vals, ci) {
      var step = chrLen[ci] / vals.length;
      vals.forEach(function (v, i) {
        if (!v) return;
        var a = x(starts[ci] + i * step), b = x(starts[ci] + (i + 1) * step);
        var y1 = y(sign * v), y0 = y(0);
        bars.append("rect").attr("x", a).attr("width", b - a + .2)
          .attr("y", Math.min(y0, y1)).attr("height", Math.abs(y1 - y0)).attr("fill", color);
      });
    });
  }
  drawBars(c.gain, "#f05050", 1);
  drawBars(c.loss, "#2ba678", -1);

  g.append("line").attr("x1", 918.7).attr("x2", 1772).attr("y1", c.zero).attr("y2", c.zero).attr("stroke", "#888").attr("stroke-dasharray", "1,1.5").attr("stroke-width", .8);
  starts.slice(1).concat([total + 155]).forEach(function (s) {
    g.append("line").attr("x1", x(s)).attr("x2", x(s)).attr("y1", c.top).attr("y2", c.bottom).attr("stroke", "#999").attr("stroke-dasharray", "1,1.5").attr("stroke-width", .8);
  });
  g.append("rect").attr("x", 918.7).attr("y", c.top).attr("width", 853).attr("height", c.bottom - c.top)
    .attr("fill", "none").attr("stroke", "#555").attr("stroke-width", 1);

  chrLen.forEach(function (l, i) {
    var cx = x(starts[i] + l / 2);
    txt(g, cx, (i % 2) ? c.evenY : c.oddY, "chr" + (i + 1), { size: 10, anchor: "middle", fill: "#222" });
  });
  c.ticks.forEach(function (v) {
    txt(g, 914, y(v), v, { size: 7, anchor: "end", fill: "#333" });
    g.append("line").attr("x1", 916).attr("x2", 918.7).attr("y1", y(v)).attr("y2", y(v)).attr("stroke", "#555").attr("stroke-width", .6);
  });
  txt(g, 893, (c.top + c.bottom) / 2, "Frequency", { size: 12.5, rotate: -90, anchor: "middle" });

  [["gain", "#f05050", c.legY[0]], ["loss", "#2ba678", c.legY[1]]].forEach(function (d) {
    g.append("rect").attr("x", 1726.5).attr("y", d[2] - 4).attr("width", 9).attr("height", 8).attr("fill", d[1]).attr("stroke", "#888").attr("stroke-width", .5);
    txt(g, 1755.5, d[2], d[0], { size: 10, anchor: "middle", fill: "#222" });
  });
}
cnPanel({ id: "cnHigh", title: "High_CDS group", titleY: 1060.7, top: 1076.7, bottom: 1162, zero: 1119.3, y20: 1090.3, gain: gainHigh, loss: lossHigh, evenY: 1091, oddY: 1148.3, ticks: [20, 10, 0, -10, -20], legY: [1090.5, 1105] });
cnPanel({ id: "cnLow", title: "Low_CDS group", titleY: 1246.7, top: 1262.7, bottom: 1348.3, zero: 1318, y20: 1277.7, gain: gainLow, loss: lossLow, evenY: 1283, oddY: 1328, ticks: [20, 10, 0, -10], legY: [1276.7, 1290.7] });

// ---------- L fraction of genome ----------
(function () {
  var g = svg.append("g");
  var cats = ["Low", "High"];
  var y = d3.scaleBand().domain(cats).range([1405.2, 1603]).paddingInner(.1).paddingOuter(.0);
  var cy = function (c) { return y(c) + y.bandwidth() / 2; };
  var xL = d3.scaleLinear().domain([0, .35]).range([763.6, 398.3]);
  var xR = d3.scaleLinear().domain([-.25, .15]).range([1184.8 - 228.5, 1184.8 + 137.1]);
  var fmt = function (v) { return String(Math.round(Math.abs(v) * 100) / 100); };

  function frame(left, right, ticks, xs, xMinor) {
    g.append("rect").attr("x", left).attr("y", 1395).attr("width", right - left).attr("height", 217.7).attr("fill", "#fff");
    xMinor.forEach(function (v) {
      g.append("line").attr("x1", xs(v)).attr("x2", xs(v)).attr("y1", 1395).attr("y2", 1612.7).attr("stroke", "#eeeeee").attr("stroke-width", 1);
    });
    cats.forEach(function (c) {
      g.append("line").attr("x1", left).attr("x2", right).attr("y1", cy(c)).attr("y2", cy(c)).attr("stroke", "#eeeeee").attr("stroke-width", 2);
    });
  }
  function errBar(xs, lo, hi, yy) {
    g.append("path")
      .attr("d", "M" + xs(lo) + "," + (yy - 7.5) + "V" + (yy + 7.5) + "M" + xs(lo) + "," + yy + "H" + xs(hi) + "M" + xs(hi) + "," + (yy - 7.5) + "V" + (yy + 7.5))
      .attr("stroke", "#000").attr("stroke-width", 1.4).attr("fill", "none");
  }
  function bottomAxis(xs, vals) {
    var ax = g.append("g").attr("transform", "translate(0,1612.7)")
      .call(d3.axisBottom(xs).tickValues(vals).tickSize(3).tickSizeOuter(0).tickPadding(5).tickFormat(fmt));
    ax.select(".domain").remove();
    styleAxis(ax, "#555", 13);
  }

  // left
  var tl = [0, .05, .1, .15, .2, .25, .3, .35];
  frame(395, 797.8, tl, xL, tl);
  cats.forEach(function (c) {
    g.append("rect").attr("x", xL(fgaVals[c])).attr("width", xL(0) - xL(fgaVals[c])).attr("y", y(c)).attr("height", y.bandwidth()).attr("fill", "#ffd030");
    errBar(xL, fgaErr[c][0], fgaErr[c][1], cy(c));
  });
  txt(g, 491, cy("Low"), "****", { size: 10, rotate: -90, anchor: "middle", bold: true, fill: "#222" });
  txt(g, 443.7, cy("High"), "Ref", { size: 6.5, rotate: -90, anchor: "middle", bold: true, fill: "#222" });
  g.append("rect").attr("x", 767).attr("y", 1395).attr("width", 30.8).attr("height", 217.7).attr("fill", "#d9d9d9");
  g.append("rect").attr("x", 395).attr("y", 1395).attr("width", 402.8).attr("height", 217.7).attr("fill", "none").attr("stroke", "#888").attr("stroke-width", 1.2);
  g.append("line").attr("x1", 767).attr("x2", 767).attr("y1", 1395).attr("y2", 1612.7).attr("stroke", "#222").attr("stroke-width", 1);
  g.append("line").attr("x1", 797.8).attr("x2", 797.8).attr("y1", 1395).attr("y2", 1612.7).attr("stroke", "#000").attr("stroke-width", 2);
  txt(g, 783, 1505, "CDS", { size: 15.5, rotate: 90, anchor: "middle", fill: "#222" });
  bottomAxis(xL, tl);
  txt(g, 581, 1660, "FGA (Fraction of Genome Altered)", { size: 17.5, anchor: "middle", fill: "#111" });

  // right
  var tr = [-.25, -.2, -.15, -.1, -.05, 0, .05, .1, .15];
  frame(922.6, 1324.7, tr, xR, tr);
  cats.forEach(function (c) {
    g.append("rect").attr("x", xR(-fggVals[c])).attr("width", xR(0) - xR(-fggVals[c])).attr("y", y(c)).attr("height", y.bandwidth()).attr("fill", "#f47c80");
    g.append("rect").attr("x", xR(0)).attr("width", xR(fglVals[c]) - xR(0)).attr("y", y(c)).attr("height", y.bandwidth()).attr("fill", "#7abbdb");
    errBar(xR, -fggErr[c][1], -fggErr[c][0], cy(c));
    errBar(xR, fglErr[c][0], fglErr[c][1], cy(c));
  });
  txt(g, 1053, cy("Low"), "****", { size: 10, rotate: -90, anchor: "middle", bold: true, fill: "#222" });
  txt(g, 1308, cy("Low"), "****", { size: 10, rotate: -90, anchor: "middle", bold: true, fill: "#222" });
  txt(g, 1029, cy("High"), "Ref", { size: 6.5, rotate: -90, anchor: "middle", bold: true, fill: "#222" });
  g.append("rect").attr("x", 922.6).attr("y", 1395).attr("width", 30.3).attr("height", 217.7).attr("fill", "#d9d9d9");
  g.append("rect").attr("x", 922.6).attr("y", 1395).attr("width", 402.1).attr("height", 217.7).attr("fill", "none").attr("stroke", "#888").attr("stroke-width", 1.2);
  g.append("line").attr("x1", 952.9).attr("x2", 952.9).attr("y1", 1395).attr("y2", 1612.7).attr("stroke", "#222").attr("stroke-width", 1);
  g.append("line").attr("x1", 922.6).attr("x2", 922.6).attr("y1", 1395).attr("y2", 1612.7).attr("stroke", "#000").attr("stroke-width", 2);
  txt(g, 937, 1505, "CDS", { size: 15.5, rotate: -90, anchor: "middle", fill: "#222" });
  bottomAxis(xR, tr);
  txt(g, 1140, 1660, "FGG or FGL (Fraction of Genome Gained or lost)", { size: 17.5, anchor: "middle", fill: "#111" });

  cats.forEach(function (c) {
    g.append("line").attr("x1", 844).attr("x2", 855).attr("y1", cy(c)).attr("y2", cy(c)).attr("stroke", "#eee").attr("stroke-width", 2);
    g.append("line").attr("x1", 888).attr("x2", 896).attr("y1", cy(c)).attr("y2", cy(c)).attr("stroke", "#eee").attr("stroke-width", 2);
    txt(g, 872, cy(c), c, { size: 14, anchor: "middle", fill: "#222" });
    g.append("line").attr("x1", 797.8).attr("x2", 801).attr("y1", cy(c)).attr("y2", cy(c)).attr("stroke", "#333");
    g.append("line").attr("x1", 919.5).attr("x2", 922.6).attr("y1", cy(c)).attr("y2", cy(c)).attr("stroke", "#333");
  });

  // legend
  [["Copy number\u2212altered genome", "#ffd030", 487, 523.8], ["Copy number\u2212Gained genome", "#f47c80", 774, 810], ["Copy number\u2212lost genome", "#7abbdb", 1027, 1063]].forEach(function (d) {
    g.append("rect").attr("x", d[2]).attr("y", 1686.7).attr("width", 26).attr("height", 26.3).attr("fill", d[1]);
    txt(g, d[3], 1700, d[0], { size: 14.5, fill: "#222" });
  });
})();
</script>
</body>
</html>
